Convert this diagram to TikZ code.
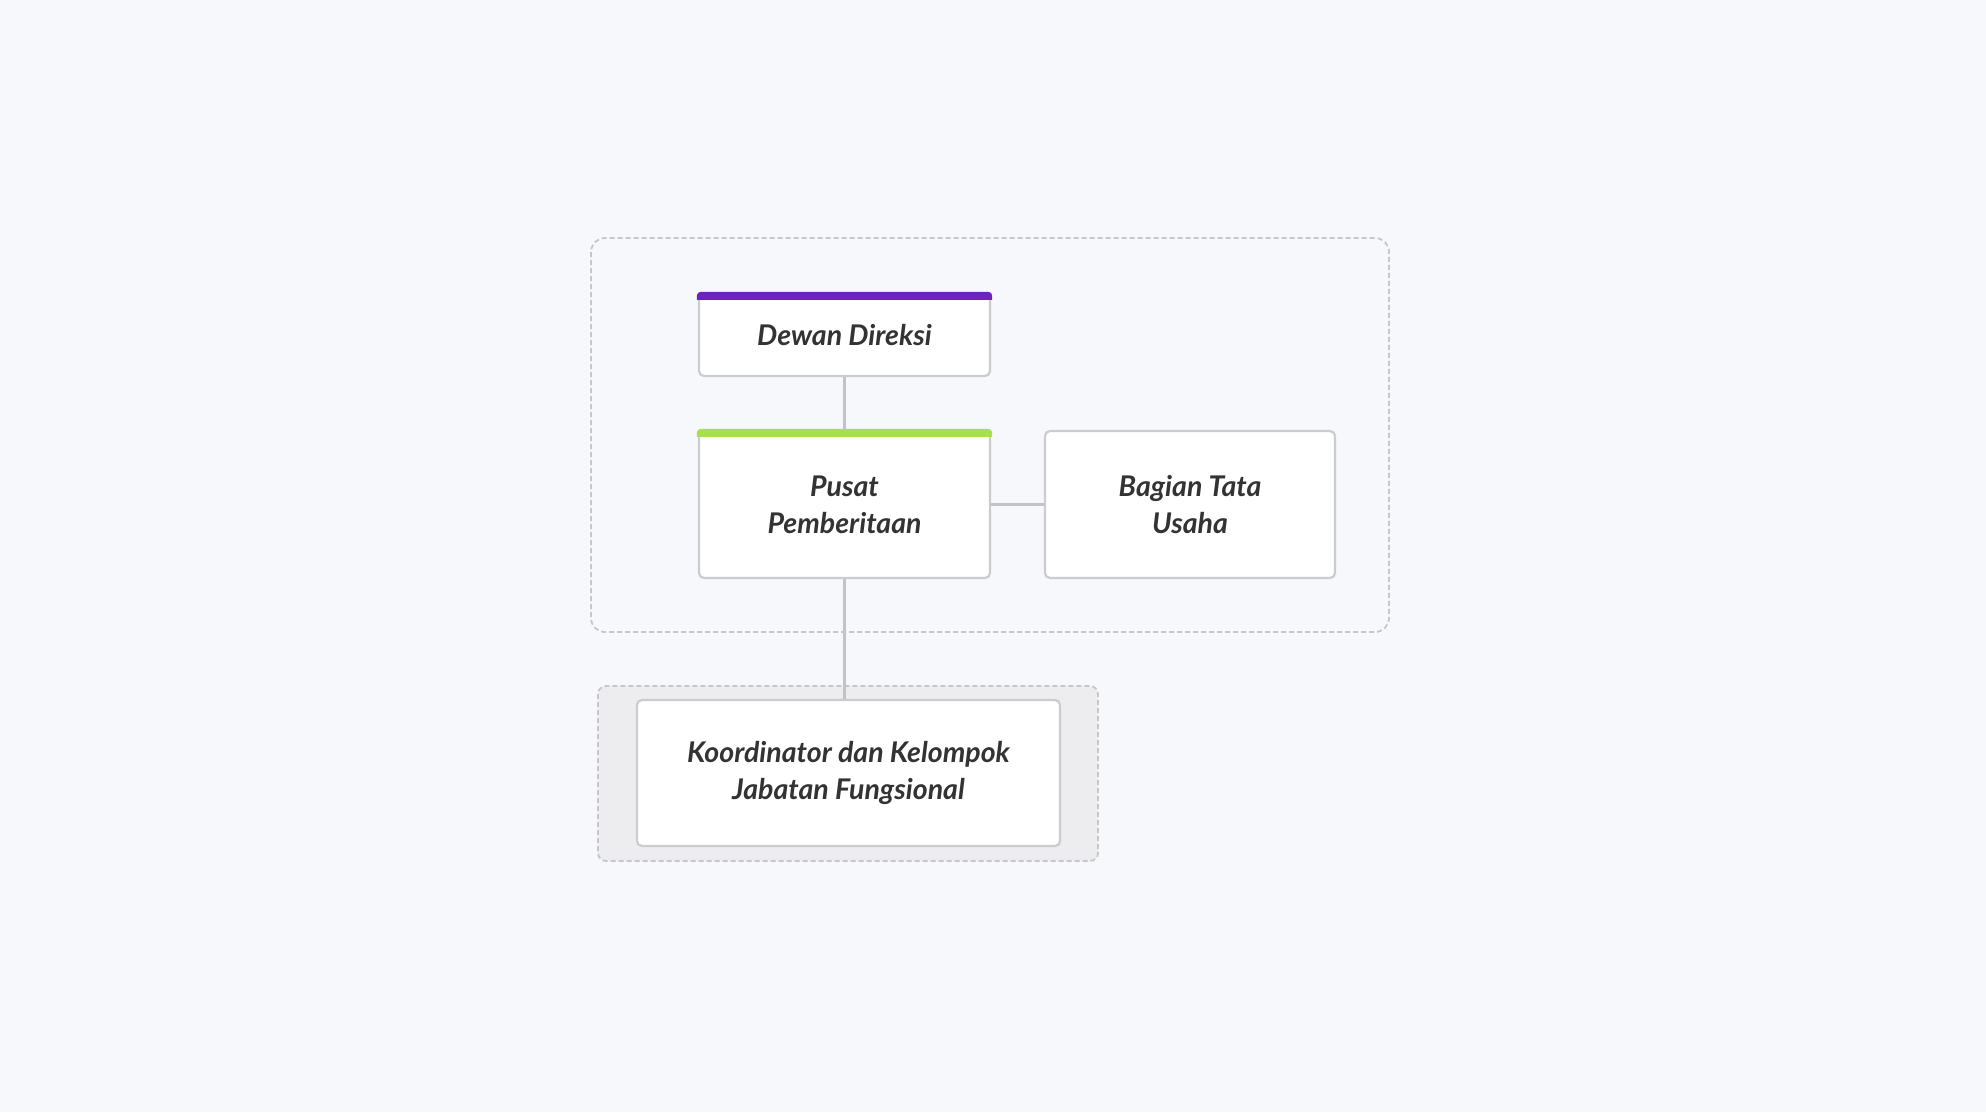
\documentclass[tikz,border=0pt]{standalone}
\usepackage{fontspec}
\setmainfont{Lato}
\definecolor{bgcol}{HTML}{F7F8FC}
\definecolor{grpline}{HTML}{C6C6CC}
\definecolor{grpfill}{HTML}{EDEDF0}
\definecolor{boxline}{HTML}{CBCBD0}
\definecolor{linkcol}{HTML}{C2C2C8}
\definecolor{txtcol}{HTML}{333333}
\definecolor{barpurple}{HTML}{6E22BD}
\definecolor{bargreen}{HTML}{A6E14B}
\tikzset{
    unitbox/.style={draw=boxline, line width=2.2pt, fill=white, rounded corners=5pt,
        align=center, text=txtcol, inner sep=0pt,
        font=\fontsize{28.5}{37}\selectfont\bfseries\itshape},
    grpbox/.style={draw=grpline, line width=1.8pt, dash pattern=on 5pt off 3pt, rounded corners=14pt},
    link/.style={draw=linkcol, line width=2.2pt}
}
\begin{document}
\begin{tikzpicture}[x=1pt, y=-1pt]
        % Fond
        \fill[bgcol] (0,0) rectangle (1986,1112);
        \useasboundingbox (0,0) rectangle (1986,1112);

        % Groupes
        \draw[grpbox] (591,238) rectangle (1389,632);
        \draw[grpbox, fill=grpfill, rounded corners=8pt] (598,686) rectangle (1098,861);

        % Unites
        \node[unitbox, minimum width=291pt, minimum height=82pt] (dewan) at (844.5,335) {Dewan Direksi};
        \node[unitbox, minimum width=291pt, minimum height=147pt] (pusat) at (844.5,504.5) {Pusat\\Pemberitaan};
        \node[unitbox, minimum width=290pt, minimum height=147pt] (bagian) at (1190,504.5) {Bagian Tata\\Usaha};
        \node[unitbox, minimum width=423pt, minimum height=146pt] (koord) at (848.5,773) {Koordinator dan Kelompok\\Jabatan Fungsional};

        % Barres de couleur
        \foreach \n/\c in {dewan/barpurple, pusat/bargreen}{
            \fill[\c] ([xshift=-1.1pt,yshift=-7pt]\n.north west) [rounded corners=4pt] -- ([xshift=-1.1pt,yshift=1.1pt]\n.north west)
                -- ([xshift=1.1pt,yshift=1.1pt]\n.north east) [sharp corners] -- ([xshift=1.1pt,yshift=-7pt]\n.north east) -- cycle;
        }

        % Liens
        \draw[link] (dewan.south) -- (pusat.north);
        \draw[link] (pusat.east) -- (bagian.west);
        \draw[link] (pusat.south) -- (pusat.south |- koord.north);

    \end{tikzpicture}
\end{document}
